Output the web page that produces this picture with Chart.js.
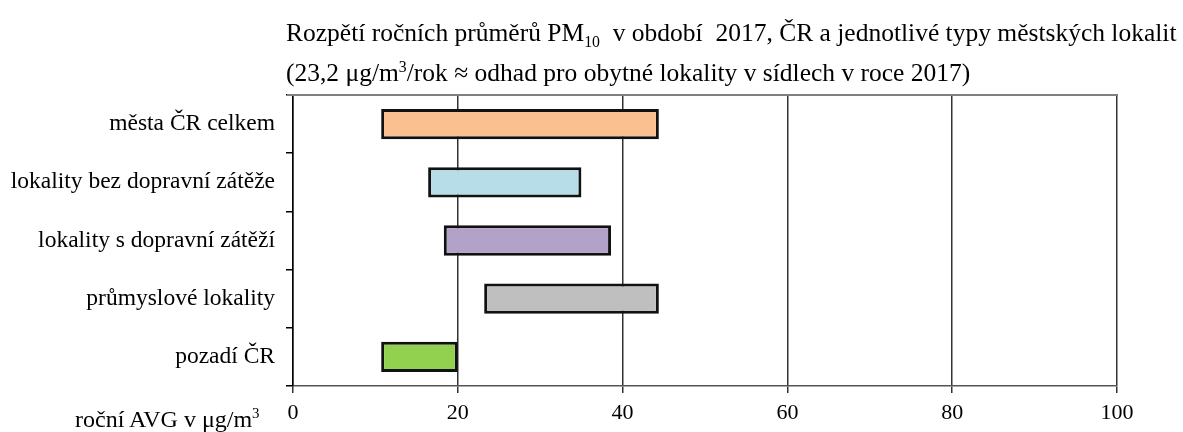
<!DOCTYPE html>
<html>
<head>
<meta charset="utf-8">
<script src="https://cdn.jsdelivr.net/npm/chart.js@4/dist/chart.umd.min.js"></script>
<style>
  html, body { margin: 0; padding: 0; background: #fff; }
  #wrap { position: relative; width: 1183px; height: 432px; overflow: hidden; }
  #chart { position: absolute; left: 0; top: 0; }
  .txt { position: absolute; font-family: 'Liberation Serif', 'Times New Roman', serif; color: #000; white-space: nowrap; line-height: 1.15; }
  .title { left: 286px; font-size: 25.5px; }
  sub, sup { font-size: 62%; line-height: 0; }
</style>
</head>
<body>
<div id="wrap">
  <canvas id="chart" width="1183" height="432"></canvas>
  <div class="txt title" style="top: 18px;">Rozpětí ročních průměrů PM<sub>10</sub>&nbsp; v období&nbsp; 2017, ČR a jednotlivé typy městských lokalit</div>
  <div class="txt title" style="top: 58px;">(23,2 μg/m<sup>3</sup>/rok ≈ odhad pro obytné lokality v sídlech v roce 2017)</div>
  <div class="txt" style="left: 75px; top: 406px; font-size: 24px;">roční AVG v μg/m<sup>3</sup></div>
</div>
<script>
const categories = [
  'města ČR celkem',
  'lokality bez dopravní zátěže',
  'lokality s dopravní zátěží',
  'průmyslové lokality',
  'pozadí ČR',
];
const rangeMin = [10.7, 16.4, 18.3, 23.2, 10.7];
const rangeMax = [44.4, 35.0, 38.6, 44.4, 20.0];
const barColors = ['#FAC090', '#B7DEE8', '#B3A2C7', '#BFBFBF', '#92D050'];
const xTicks = [0, 20, 40, 60, 80, 100];

const FONT = "'Liberation Serif', 'Times New Roman', serif";

// gray line along the top of the plot area
const topBorder = {
  id: 'topBorder',
  afterDraw(chart) {
    const { ctx, chartArea } = chart;
    ctx.save();
    ctx.strokeStyle = '#808080';
    ctx.lineWidth = 2;
    ctx.beginPath();
    ctx.moveTo(chartArea.left - 6, chartArea.top);
    ctx.lineTo(chartArea.right + 1, chartArea.top);
    ctx.stroke();
    ctx.restore();
  },
};

new Chart(document.getElementById('chart').getContext('2d'), {
  type: 'bar',
  data: {
    labels: categories,
    datasets: [{
      data: categories.map((_, i) => [rangeMin[i], rangeMax[i]]),
      backgroundColor: barColors,
      borderColor: '#111',
      borderWidth: 3,
      borderSkipped: false,
      barPercentage: 0.52,
      categoryPercentage: 1,
    }],
  },
  options: {
    indexAxis: 'y',
    responsive: false,
    animation: false,
    layout: { padding: { top: 95, right: 66, left: 0, bottom: 0 } },
    plugins: {
      legend: { display: false },
      tooltip: { enabled: false },
    },
    scales: {
      x: {
        min: 0,
        max: 100,
        afterBuildTicks: (axis) => { axis.ticks = xTicks.map((v) => ({ value: v })); },
        afterFit: (axis) => { axis.height = 46; },
        grid: {
          color: '#333',
          lineWidth: 1.5,
          tickLength: 7,
          drawOnChartArea: true,
        },
        border: { color: '#555', width: 1.5 },
        ticks: {
          color: '#000',
          padding: 7,
          font: { family: FONT, size: 22 },
        },
      },
      y: {
        offset: true,
        afterFit: (axis) => { axis.width = 293; },
        grid: {
          offset: true,
          drawOnChartArea: false,
          color: '#000',
          lineWidth: 1.5,
          tickLength: 7,
        },
        border: { color: '#000', width: 1.5 },
        ticks: {
          color: '#000',
          padding: 11,
          font: { family: FONT, size: 23.5 },
        },
      },
    },
  },
  plugins: [topBorder],
});
</script>
</body>
</html>
